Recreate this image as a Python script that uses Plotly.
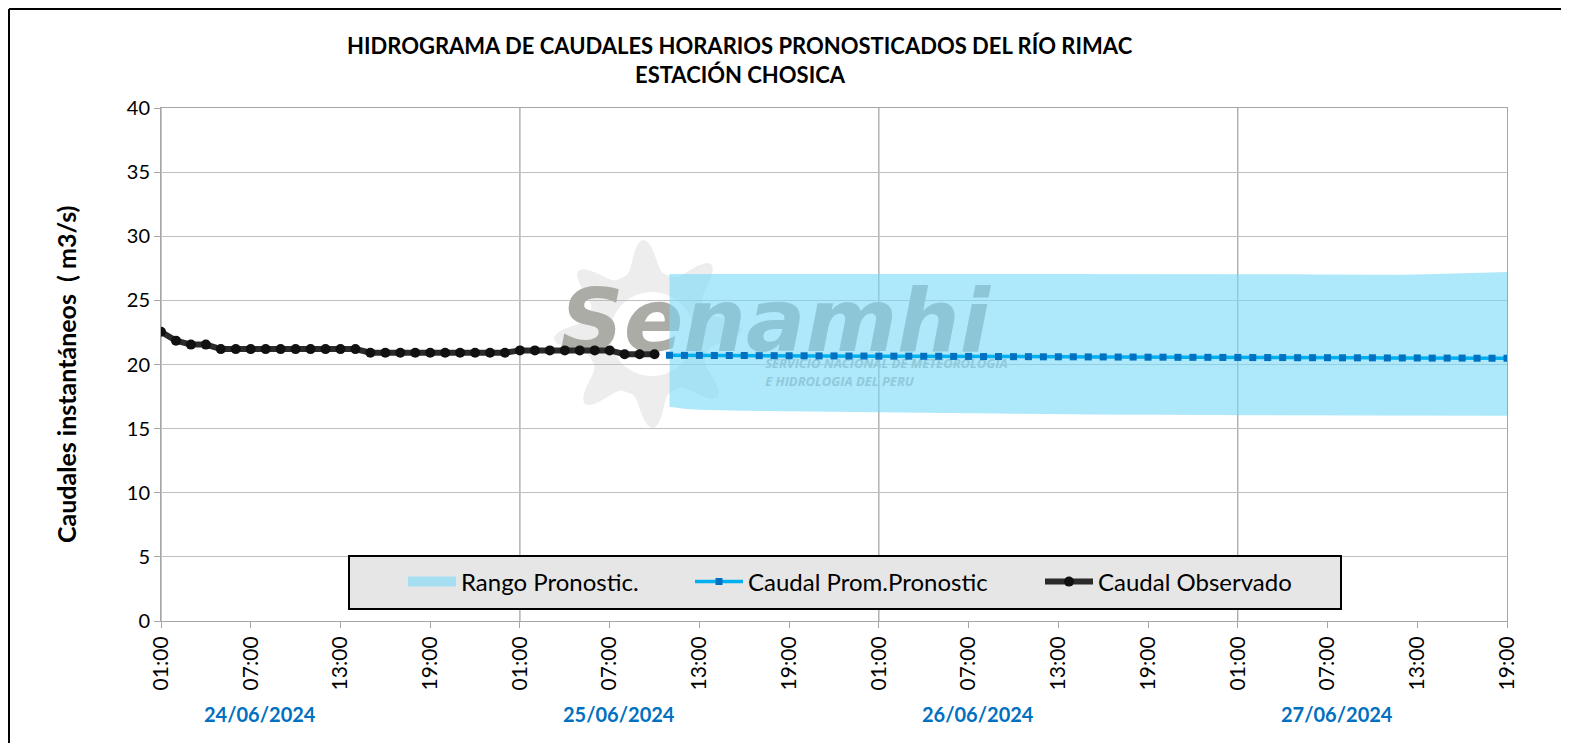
import math
import plotly.graph_objects as go

# ---------------- data ----------------
hours_obs = list(range(0, 34))
observed = [22.55, 21.86, 21.55, 21.55,
            21.2, 21.2, 21.2, 21.2, 21.2, 21.2, 21.2, 21.2, 21.2, 21.2,
            20.92, 20.92, 20.92, 20.92, 20.92, 20.92, 20.92, 20.92, 20.92, 20.92,
            21.1, 21.1, 21.1, 21.1, 21.1, 21.1, 21.1,
            20.8, 20.8, 20.8]

hours_fc = list(range(34, 91))
forecast = [20.72, 20.71, 20.71, 20.70, 20.70, 20.70, 20.69, 20.69, 20.68, 20.68,
            20.67, 20.67, 20.66, 20.66, 20.65, 20.65, 20.65, 20.64, 20.64, 20.63,
            20.63, 20.62, 20.62, 20.61, 20.61, 20.60, 20.60, 20.60, 20.59, 20.59,
            20.58, 20.58, 20.57, 20.57, 20.56, 20.56, 20.56, 20.55, 20.55, 20.54,
            20.54, 20.54, 20.53, 20.53, 20.53, 20.52, 20.52, 20.52, 20.51, 20.51,
            20.51, 20.50, 20.50, 20.50, 20.49, 20.49, 20.49]
range_upper = [27.05, 27.05, 27.05, 27.04, 27.04, 27.03, 27.03, 27.02, 27.02, 27.02,
               27.01, 27.01, 27.00, 27.00, 27.00, 27.00, 27.00, 27.01, 27.01, 27.02,
               27.02, 27.03, 27.03, 27.04, 27.05, 27.06, 27.06, 27.07, 27.07, 27.08,
               27.08, 27.08, 27.08, 27.08, 27.08, 27.07, 27.07, 27.06, 27.06, 27.05,
               27.05, 27.04, 27.03, 27.02, 27.01, 27.00, 27.00, 26.99, 26.99, 27.00,
               27.02, 27.05, 27.08, 27.12, 27.16, 27.20, 27.22]
range_lower = [16.70, 16.55, 16.48, 16.45, 16.42, 16.40, 16.38, 16.36, 16.34, 16.32,
               16.30, 16.28, 16.27, 16.26, 16.25, 16.24, 16.23, 16.22, 16.21, 16.20,
               16.19, 16.18, 16.17, 16.16, 16.15, 16.14, 16.13, 16.12, 16.11, 16.10,
               16.10, 16.09, 16.08, 16.08, 16.07, 16.07, 16.06, 16.06, 16.05, 16.05,
               16.05, 16.04, 16.04, 16.03, 16.03, 16.03, 16.02, 16.02, 16.02, 16.01,
               16.01, 16.01, 16.00, 16.00, 16.00, 16.00, 16.00]

tick_hours = list(range(0, 91, 6))
tick_labels = ["01:00", "07:00", "13:00", "19:00"] * 4
day_starts = [0, 24, 48, 72]
day_labels = ["24/06/2024", "25/06/2024", "26/06/2024", "27/06/2024"]

FONT = "Lato"

# ---------------- geometry (page pixels -> paper); page has an 8px body offset ----------------
OFF = 8
W, H = 1569 - 2 * OFF, 751 - 2 * OFF
L, R, T, B = 161, 1507, 108, 621
def px(xp):
    return (xp - L) / (R - L)
def py(yp):
    return (B - yp) / (B - T)

fig = go.Figure()

# watermark text (drawn first so the band tints it)
fig.add_trace(go.Scatter(
    x=[26.7], y=[22.8], mode="text", text=["<b><i>Senamhi</i></b>"],
    textposition="middle right",
    textfont=dict(family="DejaVu Sans", size=88, color="rgb(172,172,166)"),
    showlegend=False, hoverinfo="skip"))
fig.add_trace(go.Scatter(
    x=[40.4, 40.4], y=[19.95, 18.6], mode="text",
    text=["<b><i>SERVICIO NACIONAL DE METEOROLOGIA</i></b>",
          "<b><i>E HIDROLOGIA DEL PERU</i></b>"],
    textposition="middle right",
    textfont=dict(family="Open Sans", size=13, color="rgb(178,178,172)"),
    showlegend=False, hoverinfo="skip"))

# forecast range band
fig.add_trace(go.Scatter(
    x=hours_fc + hours_fc[::-1],
    y=range_upper + range_lower[::-1],
    fill="toself", mode="lines", line=dict(width=0),
    fillcolor="rgba(120,217,248,0.6)",
    name="Rango Pronostic.", hoverinfo="skip", showlegend=False))
# legend swatch for the band (no data)
fig.add_trace(go.Scatter(
    x=[None], y=[None], mode="lines", line=dict(color="#a6def2", width=14),
    name="Rango Pronostic.", legend="legend", hoverinfo="skip"))

fig.add_trace(go.Scatter(
    x=hours_fc, y=forecast, mode="lines+markers",
    line=dict(color="#00B0F0", width=3.5),
    marker=dict(symbol="square", size=7, color="#0070C0"),
    name="Caudal Prom.Pronostic", legend="legend2"))

fig.add_trace(go.Scatter(
    x=hours_obs, y=observed, mode="lines+markers",
    line=dict(color="#2b2b2b", width=6),
    marker=dict(symbol="circle", size=10, color="#111111"),
    name="Caudal Observado", legend="legend3"))

shapes = []
# vertical day grid lines
for d in day_starts:
    shapes.append(dict(type="line", xref="x", yref="paper", x0=d, x1=d, y0=0, y1=1,
                       line=dict(color="#8c8c8c", width=1), layer="below"))

# sun logo decoration (faint)
cx, cy = 648, 334
n = 320
pts = []
for i in range(n + 1):
    th = 2 * math.pi * i / n
    r = 62 + 32 * ((1 + math.cos(8 * th + 0.4)) / 2) ** 2
    pts.append((cx + r * math.cos(th), cy + r * math.sin(th)))
path = "M " + " L ".join(f"{px(a):.5f},{py(b):.5f}" for a, b in pts) + " Z"
pts2 = []
for i in range(n + 1):
    th = 2 * math.pi * i / n
    pts2.append((cx + 4 + 42 * math.cos(th), cy + 42 * math.sin(th)))
path += " M " + " L ".join(f"{px(a):.5f},{py(b):.5f}" for a, b in pts2) + " Z"
shapes.append(dict(type="path", xref="paper", yref="paper", path=path,
                   fillcolor="rgba(234,234,234,0.85)", line=dict(width=0),
                   fillrule="evenodd", layer="below"))

# legend box
shapes.append(dict(type="rect", xref="paper", yref="paper",
                   x0=px(349), x1=px(1341), y0=py(609), y1=py(556),
                   fillcolor="#e6e6e6", line=dict(color="black", width=2), layer="above"))

# outer frame (top and left edges visible)
shapes.append(dict(type="line", xref="paper", yref="paper",
                   x0=px(9), x1=px(9), y0=py(760), y1=py(9),
                   line=dict(color="black", width=2)))
shapes.append(dict(type="line", xref="paper", yref="paper",
                   x0=px(9), x1=px(1561), y0=py(9), y1=py(9),
                   line=dict(color="black", width=2)))

annotations = []
annotations.append(dict(xref="paper", yref="paper", x=px(740), y=py(45),
                        xanchor="center", yanchor="middle",
                        text="<b>HIDROGRAMA DE CAUDALES HORARIOS PRONOSTICADOS DEL RÍO RIMAC</b>",
                        showarrow=False, font=dict(family=FONT, size=22, color="black")))
annotations.append(dict(xref="paper", yref="paper", x=px(740), y=py(75),
                        xanchor="center", yanchor="middle",
                        text="<b>ESTACIÓN CHOSICA</b>",
                        showarrow=False, font=dict(family=FONT, size=22, color="black")))
annotations.append(dict(xref="paper", yref="paper", x=px(66), y=py(375),
                        xanchor="center", yanchor="middle",
                        text="<b>Caudales instantáneos  ( m3/s)</b>", textangle=-90,
                        showarrow=False, font=dict(family=FONT, size=25, color="black")))
for d, lab in zip(day_starts, day_labels):
    annotations.append(dict(xref="x", yref="paper", x=d + 6.6, y=py(714),
                            xanchor="center", yanchor="middle",
                            text=f"<b>{lab}</b>", showarrow=False,
                            font=dict(family=FONT, size=20, color="#0070C0")))

leg_common = dict(orientation="h", yanchor="middle", y=py(582), xanchor="left",
                  bgcolor="rgba(0,0,0,0)", borderwidth=0, itemwidth=48,
                  font=dict(family=FONT, size=24, color="black"))

fig.update_layout(
    width=W, height=H,
    margin=dict(l=L - OFF, r=W - (R - OFF), t=T - OFF, b=H - (B - OFF)),
    paper_bgcolor="white", plot_bgcolor="white",
    font=dict(family=FONT, size=20, color="black"),
    showlegend=True,
    legend=dict(x=px(403), **leg_common),
    legend2=dict(x=px(690), **leg_common),
    legend3=dict(x=px(1040), **leg_common),
    shapes=shapes, annotations=annotations,
    xaxis=dict(range=[0, 90], tickmode="array", tickvals=tick_hours, ticktext=tick_labels,
               tickangle=-90, showgrid=False, zeroline=False,
               showline=True, linecolor="#a6a6a6", linewidth=1, mirror=True,
               ticks="outside", ticklen=6, tickcolor="#a6a6a6",
               tickfont=dict(family=FONT, size=21, color="black")),
    yaxis=dict(range=[0, 40], dtick=5, showgrid=True, gridcolor="#bfbfbf", gridwidth=1,
               zeroline=False, showline=True, linecolor="#a6a6a6", linewidth=1, mirror=True,
               ticks="outside", ticklen=6, tickcolor="#a6a6a6",
               tickfont=dict(family=FONT, size=20, color="black")),
)

fig.write_html("out.html")
